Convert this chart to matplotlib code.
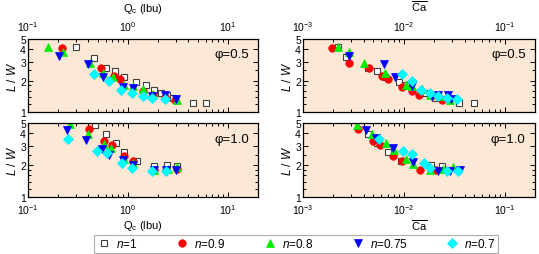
import matplotlib
matplotlib.use("Agg")
import matplotlib.pyplot as plt
from matplotlib.ticker import FixedLocator, NullFormatter, LogLocator
import numpy as np

plt.rcParams['font.family'] = ['Liberation Sans', 'DejaVu Sans']
plt.rcParams['mathtext.fontset'] = 'custom'
plt.rcParams['mathtext.rm'] = 'Liberation Sans'
plt.rcParams['mathtext.it'] = 'Liberation Sans:italic'
plt.rcParams['mathtext.bf'] = 'Liberation Sans:bold'

# ---------------- data ----------------
series_labels = ['$n$=1', '$n$=0.9', '$n$=0.8', '$n$=0.75', '$n$=0.7']

# phi = 0.5, L/W vs Qc
qc05_n1_x = [0.30, 0.457, 0.60, 0.75, 0.91, 1.2, 1.50, 1.81, 2.14, 2.44, 2.80, 4.5, 6.1]
qc05_n1_y = [4.17, 3.29, 2.62, 2.49, 2.18, 1.95, 1.83, 1.64, 1.52, 1.46, 1.36, 1.21, 1.23]
qc05_n09_x = [0.217, 0.533, 0.73, 0.83, 1.4, 1.77, 2.34, 2.95]
qc05_n09_y = [4.1, 2.62, 2.2, 2.07, 1.6, 1.46, 1.38, 1.31]
qc05_n08_x = [0.157, 0.225, 0.417, 0.56, 0.71, 0.92, 1.13, 1.42, 1.79, 2.34, 3.1]
qc05_n08_y = [4.2, 3.78, 2.93, 2.36, 2.18, 1.81, 1.76, 1.66, 1.49, 1.43, 1.31]
qc05_n075_x = [0.206, 0.40, 0.56, 0.90, 1.13, 1.74, 2.34, 3.0]
qc05_n075_y = [3.46, 2.88, 2.15, 1.75, 1.70, 1.43, 1.46, 1.33]
qc05_n07_x = [0.46, 0.64, 0.86, 1.09, 1.40, 1.74, 2.34]
qc05_n07_y = [2.31, 2.0, 1.62, 1.52, 1.43, 1.36, 1.33]

# phi = 1.0, L/W vs Qc
qc10_n1_x = [0.468, 0.60, 0.76, 0.91, 1.24, 1.81, 2.46, 3.1]
qc10_n1_y = [4.79, 3.94, 3.24, 2.64, 2.2, 1.95, 2.0, 1.95]
qc10_n09_x = [0.41, 0.58, 0.69, 0.91, 1.13, 1.81, 2.4, 3.1]
qc10_n09_y = [4.39, 3.4, 3.12, 2.45, 2.2, 1.81, 1.81, 1.85]
qc10_n08_x = [0.263, 0.40, 0.58, 0.68, 0.92, 1.13, 1.81, 2.5, 3.1]
qc10_n08_y = [4.9, 3.94, 3.17, 2.88, 2.3, 2.1, 1.80, 1.82, 1.9]
qc10_n075_x = [0.244, 0.38, 0.55, 0.65, 0.90, 1.13, 1.81, 2.4, 3.0]
qc10_n075_y = [4.32, 3.48, 2.84, 2.49, 2.25, 2.0, 1.81, 1.80, 1.78]
qc10_n07_x = [0.25, 0.49, 0.62, 0.88, 1.09, 1.74, 2.4]
qc10_n07_y = [3.53, 2.7, 2.59, 2.09, 1.88, 1.77, 1.75]

# phi = 0.5, L/W vs Ca
ca05_n1_x = [0.00222, 0.00268, 0.0044, 0.00547, 0.0065, 0.0089, 0.0105, 0.0158, 0.0205, 0.0256, 0.0355, 0.0493]
ca05_n1_y = [4.17, 3.34, 2.62, 2.49, 2.18, 1.95, 1.81, 1.52, 1.36, 1.33, 1.21, 1.23]
ca05_n09_x = [0.00195, 0.00284, 0.00447, 0.00612, 0.00697, 0.0096, 0.0121, 0.0143, 0.0191, 0.0237]
ca05_n09_y = [4.07, 2.93, 2.62, 2.2, 2.07, 1.72, 1.58, 1.46, 1.41, 1.31]
ca05_n08_x = [0.00222, 0.00289, 0.00406, 0.0065, 0.0104, 0.0121, 0.0152, 0.0183, 0.0229, 0.0287]
ca05_n08_y = [4.22, 3.73, 2.95, 2.35, 1.81, 1.76, 1.66, 1.47, 1.41, 1.31]
ca05_n075_x = [0.00289, 0.00637, 0.00817, 0.0121, 0.0191, 0.0220, 0.0276, 0.0297]
ca05_n075_y = [3.46, 2.88, 2.15, 1.76, 1.43, 1.46, 1.46, 1.33]
ca05_n07_x = [0.0095, 0.0121, 0.0149, 0.0183, 0.022, 0.0266, 0.0339]
ca05_n07_y = [2.31, 1.97, 1.62, 1.51, 1.43, 1.36, 1.33]

# phi = 1.0, L/W vs Ca
ca10_n1_x = [0.0044, 0.0054, 0.0070, 0.0093, 0.0188, 0.0237]
ca10_n1_y = [3.94, 3.21, 2.64, 2.2, 2.0, 1.97]
ca10_n09_x = [0.00348, 0.005, 0.0058, 0.0078, 0.0096, 0.0146, 0.021]
ca10_n09_y = [4.39, 3.4, 3.1, 2.45, 2.2, 1.81, 1.81]
ca10_n08_x = [0.0034, 0.00482, 0.0067, 0.0079, 0.0104, 0.0123, 0.0183, 0.0245, 0.031]
ca10_n08_y = [4.8, 3.94, 3.21, 2.78, 2.28, 2.05, 1.81, 1.85, 1.9]
ca10_n075_x = [0.0042, 0.0053, 0.00785, 0.0123, 0.022, 0.0287, 0.036]
ca10_n075_y = [4.32, 3.58, 2.88, 2.13, 1.77, 1.75, 1.8]
ca10_n07_x = [0.0057, 0.0098, 0.0121, 0.0158, 0.0183, 0.0266, 0.0347]
ca10_n07_y = [3.53, 2.7, 2.55, 2.08, 1.88, 1.77, 1.75]

panel_titles = ['φ=0.5', 'φ=1.0']
y_ticks = [1, 2, 3, 4, 5]
y_minor = [1.2, 1.4, 1.6, 1.8, 2.5]

# ---------------- style ----------------
styles = [
    dict(marker='s', mfc='white', mec='#404040', mew=0.8, ms=4.8),
    dict(marker='o', mfc='#ff0000', mec='#ff0000', mew=0.5, ms=5.4),
    dict(marker='^', mfc='#00ee00', mec='#00ee00', mew=0.5, ms=5.8),
    dict(marker='v', mfc='#0000ff', mec='#0000ff', mew=0.5, ms=5.8),
    dict(marker='D', mfc='#00ffff', mec='#00e5ff', mew=0.5, ms=4.8),
]
bg = '#fce8d5'

W, H = 539, 255
fig = plt.figure(figsize=(W / 100, H / 100), dpi=100)

def rect(x0, y0, x1, y1):
    return [x0 / W, 1 - y1 / H, (x1 - x0) / W, (y1 - y0) / H]

ax_lt = fig.add_axes(rect(28, 40, 258, 113))
ax_lb = fig.add_axes(rect(28, 124, 258, 198))
ax_rt = fig.add_axes(rect(303, 40, 535, 113))
ax_rb = fig.add_axes(rect(303, 124, 535, 198))

panels = [
    (ax_lt, [(qc05_n1_x, qc05_n1_y), (qc05_n09_x, qc05_n09_y), (qc05_n08_x, qc05_n08_y),
             (qc05_n075_x, qc05_n075_y), (qc05_n07_x, qc05_n07_y)], (0.1, 20), 'top', panel_titles[0]),
    (ax_lb, [(qc10_n1_x, qc10_n1_y), (qc10_n09_x, qc10_n09_y), (qc10_n08_x, qc10_n08_y),
             (qc10_n075_x, qc10_n075_y), (qc10_n07_x, qc10_n07_y)], (0.1, 20), 'bottom', panel_titles[1]),
    (ax_rt, [(ca05_n1_x, ca05_n1_y), (ca05_n09_x, ca05_n09_y), (ca05_n08_x, ca05_n08_y),
             (ca05_n075_x, ca05_n075_y), (ca05_n07_x, ca05_n07_y)], (0.001, 0.2), 'top', panel_titles[0]),
    (ax_rb, [(ca10_n1_x, ca10_n1_y), (ca10_n09_x, ca10_n09_y), (ca10_n08_x, ca10_n08_y),
             (ca10_n075_x, ca10_n075_y), (ca10_n07_x, ca10_n07_y)], (0.001, 0.2), 'bottom', panel_titles[1]),
]

handles = []
for i, (ax, data, xl, side, title) in enumerate(panels):
    ax.set_facecolor(bg)
    ax.set_xscale('log')
    ax.set_yscale('log')
    hs = []
    for (xs, ys), st in zip(data, styles):
        h, = ax.plot(xs, ys, linestyle='none', clip_on=True, **st)
        hs.append(h)
    if i == 0:
        handles = hs
    ax.set_xlim(*xl)
    ax.set_ylim(1, 5)
    ax.yaxis.set_major_locator(FixedLocator(y_ticks))
    ax.yaxis.set_minor_locator(FixedLocator(y_minor))
    ax.set_yticklabels([str(t) for t in y_ticks])
    ax.yaxis.set_minor_formatter(NullFormatter())
    ax.xaxis.set_major_locator(LogLocator(base=10, numticks=10))
    ax.xaxis.set_minor_locator(LogLocator(base=10, subs=np.arange(2, 10), numticks=10))
    ax.tick_params(which='both', direction='in', top=True, right=True, labelsize=7.5,
                   width=0.7)
    ax.tick_params(axis='y', which='both', pad=1.5, labelsize=7.5)
    ax.tick_params(axis='x', which='both', pad=4)
    ax.tick_params(which='major', length=3.5)
    ax.tick_params(which='minor', length=2)
    if side == 'top':
        ax.tick_params(axis='x', labeltop=True, labelbottom=False)
        ax.xaxis.set_label_position('top')
    for sp in ax.spines.values():
        sp.set_linewidth(0.9)
    ax.set_ylabel('$L$ / $W$', fontsize=8.5, labelpad=1)
    ax.text(0.96, 0.79, title, transform=ax.transAxes, ha='right', va='center', fontsize=9.5)

ax_lt.set_xlabel('Q$_\\mathrm{c}$ (lbu)', fontsize=8, labelpad=6)
ax_lb.set_xlabel('Q$_\\mathrm{c}$ (lbu)', fontsize=8, labelpad=1)
ax_rt.set_xlabel('$\\overline{\\mathrm{Ca}}$', fontsize=8, labelpad=6)
ax_rb.set_xlabel('$\\overline{\\mathrm{Ca}}$', fontsize=8, labelpad=1)

leg = fig.legend(handles, series_labels, loc='center', ncol=5,
                 bbox_to_anchor=(296 / W, 1 - 245 / H), fontsize=8.5, frameon=True,
                 fancybox=False, edgecolor='#999999', handletextpad=0.4,
                 columnspacing=3.2, borderpad=0.25, handlelength=1.2)
leg.get_frame().set_linewidth(0.8)

fig.savefig('out.png', dpi=100)
